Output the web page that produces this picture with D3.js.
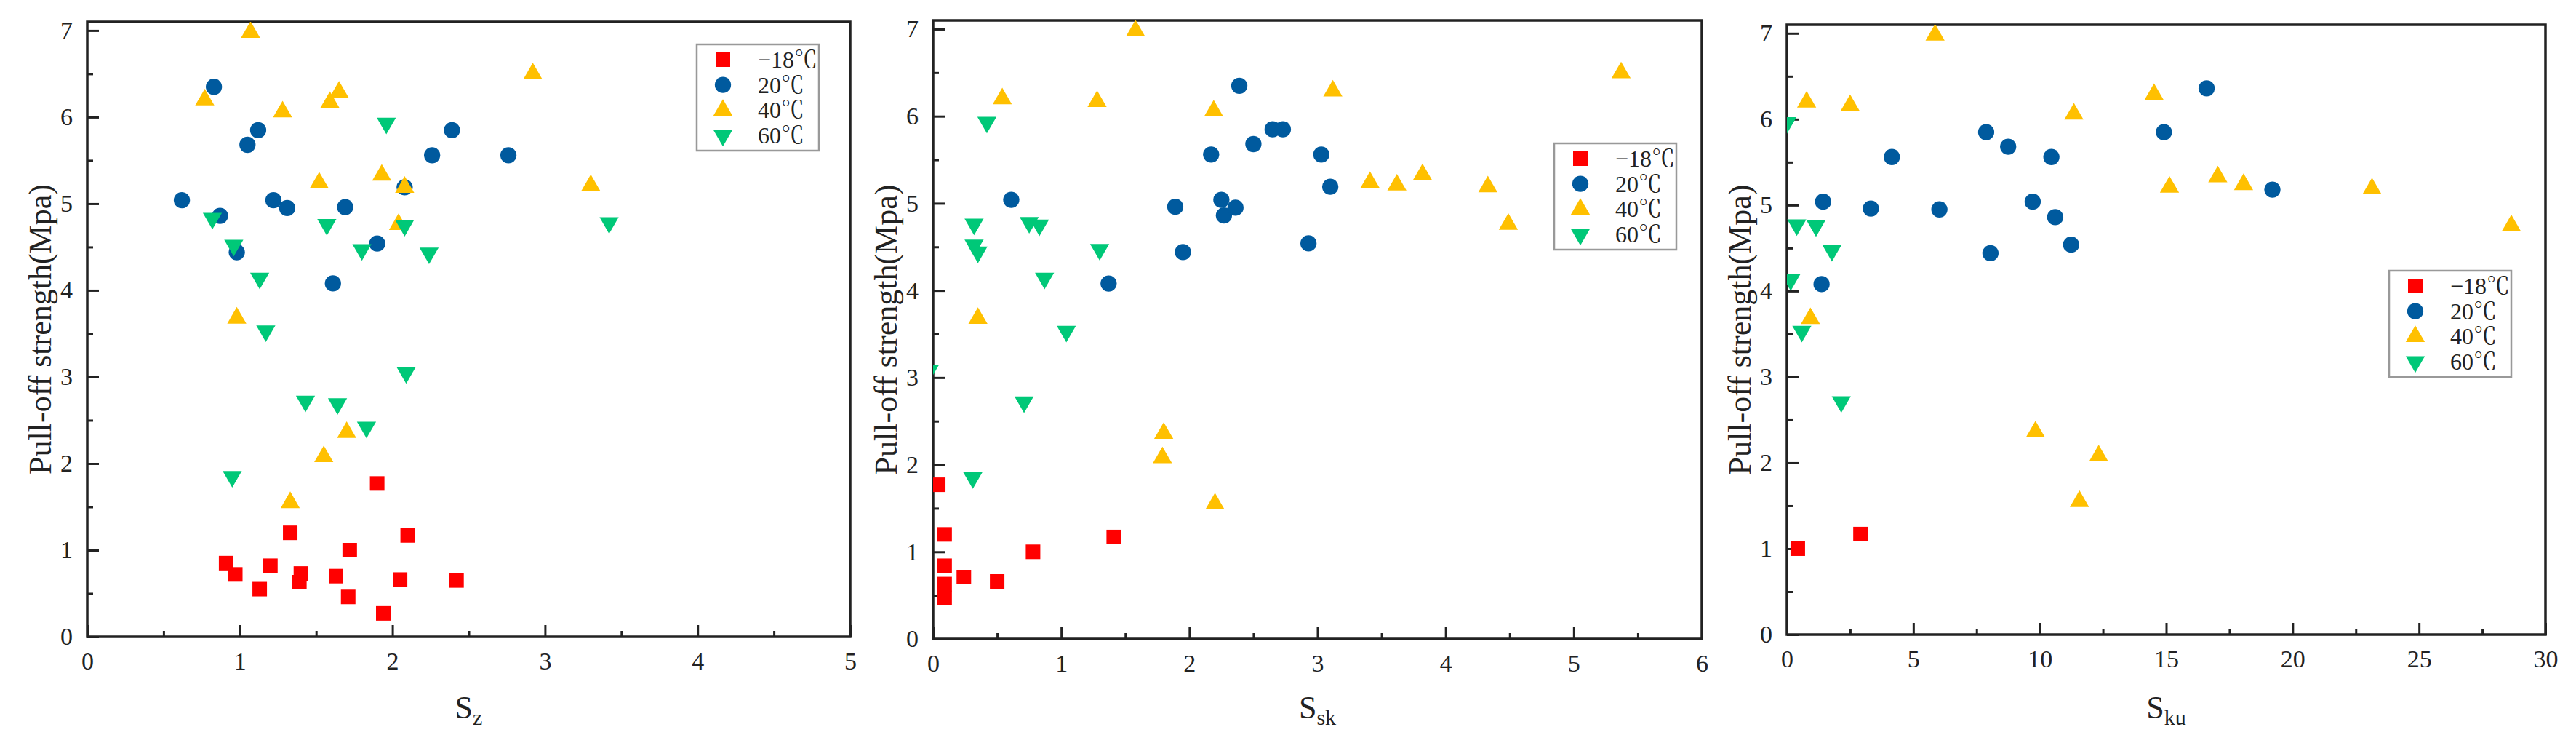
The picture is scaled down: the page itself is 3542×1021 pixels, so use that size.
<!DOCTYPE html>
<html>
<head>
<meta charset="utf-8">
<script src="https://cdn.jsdelivr.net/npm/d3@7"></script>
<style>
  body { margin: 0; background: #fff; }
  svg { display: block; }
  text { font-family: "Liberation Serif", "Times New Roman", "Noto Serif CJK SC", "Noto Sans CJK SC", serif; fill: #222; }
</style>
</head>
<body>
<div id="chart"></div>
<script>
// groups
const groups = ["−18℃", "20℃", "40℃", "60℃"];
const colors = ["#ff0000", "#005a9e", "#ffc000", "#00c878"];
const yTicks = [0, 1, 2, 3, 4, 5, 6, 7];

// Sz panel  [x, strength]
const szM18 = [[0.91, 0.85], [0.97, 0.72], [1.13, 0.55], [1.2, 0.82], [1.33, 1.2], [1.39, 0.63], [1.4, 0.73],
  [1.63, 0.7], [1.71, 0.46], [1.72, 1.0], [1.9, 1.77], [1.94, 0.27], [2.05, 0.66], [2.1, 1.17], [2.42, 0.65]];
const sz20 = [[0.62, 5.04], [0.83, 6.35], [0.87, 4.86], [0.98, 4.44], [1.05, 5.68], [1.12, 5.85], [1.22, 5.04],
  [1.31, 4.95], [1.61, 4.08], [1.69, 4.96], [1.9, 4.54], [2.08, 5.19], [2.26, 5.56], [2.39, 5.85], [2.76, 5.56]];
const sz40 = [[1.07, 6.98], [0.77, 6.2], [1.28, 6.06], [1.59, 6.17], [1.65, 6.29], [2.92, 6.5], [1.52, 5.24],
  [1.93, 5.33], [2.08, 5.19], [2.04, 4.76], [3.3, 5.21], [0.98, 3.68], [1.7, 2.36], [1.55, 2.08], [1.33, 1.55]];
const sz60 = [[1.96, 5.93], [0.82, 4.83], [0.96, 4.52], [1.57, 4.76], [2.08, 4.75], [3.42, 4.78], [1.8, 4.47],
  [2.24, 4.43], [1.13, 4.14], [1.17, 3.53], [2.09, 3.05], [1.43, 2.72], [1.64, 2.69], [1.83, 2.42], [0.95, 1.85]];

// Ssk panel
const sskM18 = [[0.04, 1.77], [0.09, 1.2], [0.09, 0.84], [0.09, 0.63], [0.09, 0.47], [0.24, 0.71], [0.5, 0.66],
  [0.78, 1.0], [1.41, 1.17]];
const ssk20 = [[0.61, 5.04], [1.37, 4.08], [1.89, 4.96], [1.95, 4.44], [2.17, 5.56], [2.25, 5.04], [2.27, 4.86],
  [2.36, 4.95], [2.39, 6.35], [2.5, 5.68], [2.65, 5.85], [2.73, 5.85], [2.93, 4.54], [3.03, 5.56], [3.1, 5.19]];
const ssk40 = [[1.58, 6.98], [0.54, 6.2], [1.28, 6.17], [2.19, 6.06], [3.12, 6.29], [5.37, 6.5], [3.41, 5.24],
  [3.62, 5.21], [3.82, 5.33], [4.33, 5.19], [4.49, 4.76], [0.35, 3.68], [1.8, 2.36], [1.79, 2.08], [2.2, 1.55]];
const ssk60 = [[0.42, 5.93], [0.32, 4.76], [0.32, 4.52], [0.35, 4.44], [0.75, 4.78], [0.83, 4.75], [1.3, 4.47],
  [0.87, 4.14], [1.04, 3.53], [0.71, 2.72], [0.31, 1.85], [-0.03, 3.08]];

// Sku panel
const skuM18 = [[0.43, 1.0], [2.91, 1.17]];
const sku20 = [[1.43, 5.04], [1.37, 4.08], [3.32, 4.96], [4.15, 5.56], [6.03, 4.95], [7.88, 5.85], [8.05, 4.44],
  [8.75, 5.68], [9.72, 5.04], [10.46, 5.56], [10.61, 4.86], [11.24, 4.54], [14.91, 5.85], [16.6, 6.36], [19.2, 5.18]];
const sku40 = [[5.86, 6.98], [0.78, 6.2], [2.5, 6.16], [11.35, 6.06], [14.52, 6.29], [17.04, 5.33], [15.13, 5.21],
  [18.06, 5.24], [23.14, 5.19], [28.65, 4.76], [0.93, 3.68], [9.83, 2.36], [12.33, 2.08], [11.57, 1.55]];
const sku60 = [[0.0, 5.96], [0.39, 4.77], [1.15, 4.76], [1.78, 4.47], [0.15, 4.13], [0.59, 3.53], [2.15, 2.71]];

const width = 3542;
const height = 1021;

const svg = d3.select("#chart").append("svg")
  .attr("width", width)
  .attr("height", height);

const panels = [
  { id: "p1", frame: { left: 120, right: 1169, top: 30, bottom: 875 }, xMax: 5, xStep: 1, sub: "z",
    legend: [958, 61], series: [szM18, sz20, sz40, sz60] },
  { id: "p2", frame: { left: 1283, right: 2340, top: 28, bottom: 878 }, xMax: 6, xStep: 1, sub: "sk",
    legend: [2137, 197], series: [sskM18, ssk20, ssk40, ssk60] },
  { id: "p3", frame: { left: 2457, right: 3500, top: 34, bottom: 872 }, xMax: 30, xStep: 5, sub: "ku",
    legend: [3285, 372], series: [skuM18, sku20, sku40, sku60] }
];

// marker shapes
const symbols = [
  d3.symbol().type(d3.symbolSquare).size(400),
  d3.symbol().type(d3.symbolCircle).size(390),
  d3.symbol().type(d3.symbolTriangle).size(300),
  d3.symbol().type(d3.symbolTriangle).size(300)
];
const rot = [0, 0, 0, 180];

panels.forEach(drawPanel);

function drawPanel(p) {
  const f = p.frame;
  const x = d3.scaleLinear().domain([0, p.xMax]).range([f.left, f.right]);
  const y = d3.scaleLinear().domain([0, 7.1]).range([f.bottom, f.top]);

  const xMajor = d3.range(0, p.xMax + 0.001, p.xStep);
  const xMinor = d3.range(p.xStep / 2, p.xMax, p.xStep);
  const yMinor = d3.range(0.5, 7, 1);

  // axes, ticks pointing inward
  const gx = svg.append("g")
    .attr("transform", `translate(0,${f.bottom})`)
    .call(d3.axisBottom(x).tickValues(xMajor).tickSize(-16).tickPadding(21).tickFormat(d3.format("d")));
  svg.append("g")
    .attr("transform", `translate(0,${f.bottom})`)
    .call(d3.axisBottom(x).tickValues(xMinor).tickSize(-8).tickFormat(""));
  const gy = svg.append("g")
    .attr("transform", `translate(${f.left},0)`)
    .call(d3.axisLeft(y).tickValues(yTicks).tickSize(-16).tickPadding(20).tickFormat(d3.format("d")));
  svg.append("g")
    .attr("transform", `translate(${f.left},0)`)
    .call(d3.axisLeft(y).tickValues(yMinor).tickSize(-8).tickFormat(""));

  svg.selectAll(".domain").remove();
  svg.selectAll(".tick line").attr("stroke", "#222").attr("stroke-width", 3);
  gx.selectAll("text").attr("font-size", 34).attr("fill", "#222");
  gy.selectAll("text").attr("font-size", 34).attr("fill", "#222");
  gx.attr("font-family", null);
  gy.attr("font-family", null);

  // frame
  svg.append("rect")
    .attr("x", f.left).attr("y", f.top)
    .attr("width", f.right - f.left).attr("height", f.bottom - f.top)
    .attr("fill", "none").attr("stroke", "#222").attr("stroke-width", 3.5);

  // points
  svg.append("clipPath").attr("id", "clip-" + p.id)
    .append("rect")
    .attr("x", f.left).attr("y", f.top)
    .attr("width", f.right - f.left).attr("height", f.bottom - f.top);

  const plot = svg.append("g").attr("clip-path", `url(#clip-${p.id})`);
  // later groups drawn on top
  [0, 1, 2, 3].forEach(i => {
    plot.append("g").selectAll("path")
      .data(p.series[i])
      .join("path")
      .attr("d", symbols[i])
      .attr("fill", colors[i])
      .attr("transform", d => `translate(${x(d[0])},${y(d[1])}) rotate(${rot[i]})`);
  });

  // axis titles
  svg.append("text")
    .attr("transform", `translate(${f.left - 65},${(f.top + f.bottom) / 2}) rotate(-90)`)
    .attr("text-anchor", "middle")
    .attr("dominant-baseline", "central")
    .attr("font-size", 44)
    .text("Pull-off strength(Mpa)");

  const xt = svg.append("text")
    .attr("x", (f.left + f.right) / 2)
    .attr("y", 987)
    .attr("text-anchor", "middle")
    .attr("font-size", 44)
    .text("S");
  xt.append("tspan")
    .attr("font-size", 30)
    .attr("dy", 9)
    .text(p.sub);

  // legend
  const [lx, ly] = p.legend;
  const lg = svg.append("g").attr("transform", `translate(${lx},${ly})`);
  lg.append("rect")
    .attr("width", 168).attr("height", 146)
    .attr("fill", "#fff").attr("stroke", "#999").attr("stroke-width", 2.5);
  groups.forEach((g, i) => {
    const cy = 21 + i * 34.7;
    lg.append("path")
      .attr("d", symbols[i])
      .attr("fill", colors[i])
      .attr("transform", `translate(36,${cy}) rotate(${rot[i]})`);
    lg.append("text")
      .attr("x", 84).attr("y", cy)
      .attr("dominant-baseline", "central")
      .attr("font-size", 32)
      .attr("fill", "#333")
      .text(g);
  });
}
</script>
</body>
</html>
